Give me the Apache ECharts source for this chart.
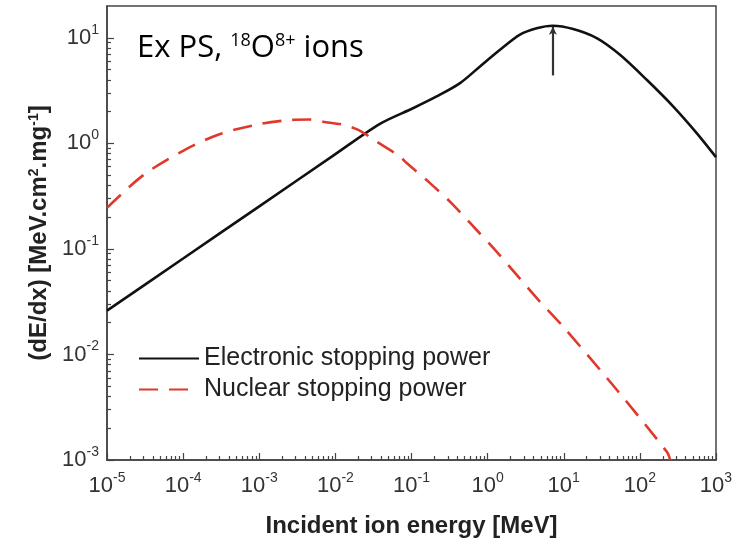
<!DOCTYPE html>
<html><head><meta charset="utf-8">
<script src="https://cdn.jsdelivr.net/npm/echarts@6/dist/echarts.min.js"></script>
<style>html,body{margin:0;padding:0;background:#fff}#c{width:746px;height:544px}</style>
</head><body><div id="c"></div>
<script>
// Electronic stopping power (black solid)
const energyElectronic = [1e-5, 1e-4, 1e-3, 1e-2, 0.0385, 0.106, 0.214, 0.434, 0.794, 1.455, 2.66, 4.41, 7.16, 13.3, 27.1, 54.8, 123, 275, 558, 1000];
const electronicPower  = [0.026, 0.081, 0.253, 0.79, 1.53, 2.16, 2.78, 3.72, 5.35, 7.69, 10.7, 12.3, 13.0, 12.1, 9.93, 6.90, 4.0, 2.23, 1.25, 0.74];
// Nuclear stopping power (red dashed)
const energyNuclear = [1e-5, 3e-5, 1e-4, 3e-4, 1e-3, 2.5e-3, 4.6e-3, 6.9e-3, 0.0126, 0.02, 0.0355, 0.0708, 0.0865, 0.175, 0.337, 0.649, 1.25, 2.41, 4.63, 9.4, 50, 227, 250];
const nuclearPower  = [0.245, 0.5, 0.85, 1.22, 1.52, 1.66, 1.68, 1.60, 1.50, 1.34, 1.03, 0.745, 0.65, 0.42, 0.27, 0.163, 0.098, 0.0567, 0.0329, 0.019, 0.0046, 0.00119, 0.001];
// Axis tick labels (decades)
const xTickValues = [1e-5, 1e-4, 1e-3, 1e-2, 1e-1, 1, 10, 100, 1000];
const yTickValues = [1e-3, 1e-2, 1e-1, 1, 10];
const xRange = [1e-5, 1e3];
const yRange = [1e-3, 20];
// Arrow marking the peak
const arrowEnergy = 7.2;
const arrowFrom = 4.4;
const arrowTo = 12.7;
const seriesNames = ['Electronic stopping power', 'Nuclear stopping power'];

function minorOf(decades) {
  const out = [];
  for (let i = 0; i < decades.length - 1; i++) {
    for (let k = 2; k <= 9; k++) out.push(k * decades[i]);
  }
  return out;
}
const xMinor = minorOf(xTickValues);
const yMinor = minorOf(yTickValues);

function expLabel(v) {
  const e = Math.round(Math.log10(v));
  return '{b|10}{e|' + e + '}';
}
const labelRich = {
  b: { fontSize: 22, lineHeight: 30, fontFamily: 'Liberation Sans', color: '#333' },
  e: { fontSize: 14, lineHeight: 14, fontFamily: 'Liberation Sans', color: '#333', verticalAlign: 'top' }
};
const axisColor = '#444';
const gridRect = { left: 107, right: 30, top: 6, bottom: 84 };

const chart = echarts.init(document.getElementById('c'));
chart.setOption({
  animation: false,
  grid: [
    Object.assign({ show: true, borderColor: axisColor, borderWidth: 1.5, backgroundColor: 'transparent' }, gridRect),
    Object.assign({}, gridRect)
  ],
  legend: {
    data: seriesNames,
    orient: 'vertical',
    left: 138, top: 346, padding: 0,
    itemWidth: 60, itemHeight: 14, itemGap: 6,
    itemStyle: { color: 'transparent', borderWidth: 0, opacity: 0 },
    textStyle: { fontSize: 25, fontFamily: 'Liberation Sans', color: '#222' }
  },
  graphic: [{
    type: 'text', left: 137, top: 32, silent: true,
    style: {
      text: '{a|Ex PS, }{s|18}{a|O}{s|8+}{a| ions}',
      rich: {
        a: { fontSize: 31, fontFamily: 'Open Sans', fill: '#000', lineHeight: 33 },
        s: { fontSize: 18, fontFamily: 'Open Sans', fill: '#000', verticalAlign: 'top', lineHeight: 18 }
      }
    }
  }],
  xAxis: [{
    type: 'log', logBase: 10, gridIndex: 0, min: xRange[0], max: xRange[1],
    position: 'bottom',
    name: 'Incident ion energy [MeV]', nameLocation: 'middle', nameGap: 54,
    nameTextStyle: { fontSize: 24, fontWeight: 'bold', fontFamily: 'Liberation Sans', color: '#222' },
    axisLine: { show: true, lineStyle: { color: axisColor, width: 1.5 } },
    axisTick: { show: true, inside: true, length: 7, customValues: xTickValues, lineStyle: { color: axisColor, width: 1.2 } },
    axisLabel: { customValues: xTickValues, formatter: expLabel, rich: labelRich, margin: 11 },
    splitLine: { show: false }
  }, {
    type: 'log', logBase: 10, gridIndex: 1, min: xRange[0], max: xRange[1],
    position: 'bottom',
    axisLine: { show: false },
    axisTick: { show: true, inside: true, length: 4, customValues: xMinor, lineStyle: { color: axisColor, width: 1.2 } },
    axisLabel: { show: false },
    splitLine: { show: false }
  }],
  yAxis: [{
    type: 'log', logBase: 10, gridIndex: 0, min: yRange[0], max: yRange[1],
    position: 'left',
    name: '{n|(dE/dx) [MeV.cm}{s|2}{n|.mg}{s|-1}{n|]}', nameLocation: 'middle', nameGap: 56, nameRotate: 90,
    nameTextStyle: {
      rich: {
        n: { fontSize: 24, fontWeight: 'bold', fontFamily: 'Liberation Sans', color: '#222' },
        s: { fontSize: 14, fontWeight: 'bold', fontFamily: 'Liberation Sans', color: '#222', verticalAlign: 'top' }
      }
    },
    axisLine: { show: true, lineStyle: { color: axisColor, width: 1.5 } },
    axisTick: { show: true, inside: true, length: 7, customValues: yTickValues, lineStyle: { color: axisColor, width: 1.2 } },
    axisLabel: { customValues: yTickValues, formatter: expLabel, rich: labelRich, margin: 8 },
    splitLine: { show: false }
  }, {
    type: 'log', logBase: 10, gridIndex: 1, min: yRange[0], max: yRange[1],
    position: 'left',
    axisLine: { show: false },
    axisTick: { show: true, inside: true, length: 4, customValues: yMinor, lineStyle: { color: axisColor, width: 1.2 } },
    axisLabel: { show: false },
    splitLine: { show: false }
  }],
  series: [{
    name: seriesNames[0], type: 'line', xAxisIndex: 0, yAxisIndex: 0,
    data: energyElectronic.map((x, i) => [x, electronicPower[i]]),
    symbol: 'none', smooth: 0.3,
    lineStyle: { color: '#111', width: 2.6 },
    itemStyle: { color: '#111' },
    markLine: {
      silent: true, animation: false,
      symbol: ['none', 'arrow'], symbolSize: [6, 8],
      label: { show: false },
      lineStyle: { color: '#333', width: 2.2, type: 'solid' },
      data: [[{ coord: [arrowEnergy, arrowFrom] }, { coord: [arrowEnergy, arrowTo] }]]
    }
  }, {
    name: seriesNames[1], type: 'line', xAxisIndex: 0, yAxisIndex: 0,
    data: energyNuclear.map((x, i) => [x, nuclearPower[i]]),
    symbol: 'none', smooth: 0.3,
    lineStyle: { color: '#e0392b', width: 2.6, type: [19, 11] },
    itemStyle: { color: '#e0392b' }
  }]
});
</script>
</body></html>
